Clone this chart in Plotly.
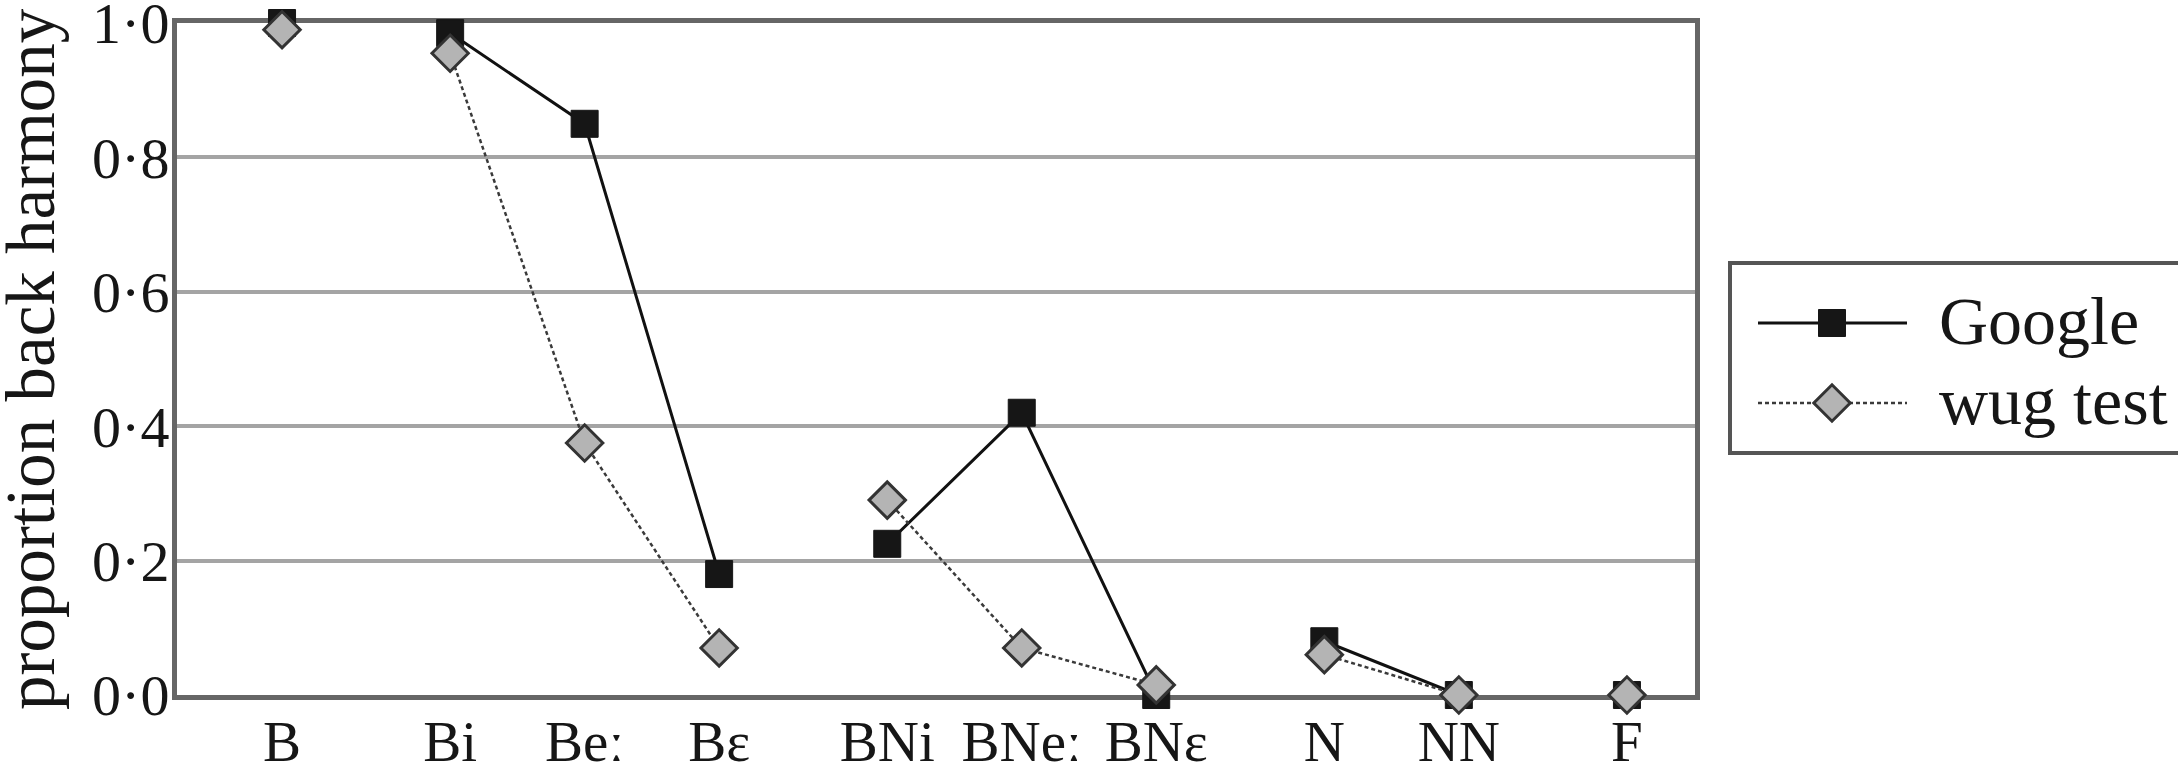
import plotly.graph_objects as go

# ---- data -------------------------------------------------------------
categories = ["B", "Bi", "Beː", "Bɛ", "BNi", "BNeː", "BNɛ", "N", "NN", "F"]
group_sizes = [1, 3, 3, 2, 1]          # categories per stem-type group
google = [1.0, 0.985, 0.85, 0.18, 0.225, 0.42, 0.0, 0.08, 0.0, 0.0]
wug_test = [0.99, 0.955, 0.375, 0.07, 0.29, 0.07, 0.015, 0.06, 0.0, 0.0]
y_ticks = [0.0, 0.2, 0.4, 0.6, 0.8, 1.0]
y_tick_labels = ["0·0", "0·2", "0·4", "0·6", "0·8", "1·0"]

# ---- geometry -------------------------------------------------------------
W, H = 2178, 779
PLOT_L, PLOT_R, PLOT_T, PLOT_B = 177, 1695, 23, 695
GROUP_GAP = 1.25
FONT = "Liberation Serif, Times New Roman, serif"
INK = "#161616"

# x position of each category: unit spacing in a group, wider gap between groups
positions = []
pos = 0.0
for gi, n in enumerate(group_sizes):
    if gi > 0:
        pos += GROUP_GAP - 1
    for _ in range(n):
        positions.append(pos)
        pos += 1


def broken(values):
    """x/y lists with a gap between groups so lines only join within a group."""
    xs, ys, i = [], [], 0
    for gi, n in enumerate(group_sizes):
        if gi > 0:
            xs.append(None)
            ys.append(None)
        xs += positions[i:i + n]
        ys += values[i:i + n]
        i += n
    return xs, ys


google_line = dict(color="#111111", width=3)
google_marker = dict(symbol="square", size=27, color=INK, line=dict(color=INK, width=1))
wug_line = dict(color="#3a3a3a", width=2.5, dash="4px,3px")
wug_marker = dict(symbol="diamond", size=28, color="#b4b4b4",
                  line=dict(color="#333333", width=3))

fig = go.Figure()

gx, gy = broken(google)
fig.add_trace(go.Scatter(x=gx, y=gy, mode="lines+markers", name="Google",
                         line=google_line, marker=google_marker,
                         cliponaxis=False, showlegend=False))
wx, wy = broken(wug_test)
fig.add_trace(go.Scatter(x=wx, y=wy, mode="lines+markers", name="wug test",
                         line=wug_line, marker=wug_marker,
                         cliponaxis=False, showlegend=False))

# ---- key (drawn on a full-canvas pixel overlay) ---------------------------
KEY_X0, KEY_X1, KEY_MID = 1758, 1907, 1832
KEY_ROWS = [("Google", 323, google_line, google_marker),
            ("wug test", 403, wug_line, wug_marker)]
for label, ry, ln, mk in KEY_ROWS:
    fig.add_trace(go.Scatter(x=[KEY_X0, KEY_X1], y=[ry, ry], mode="lines",
                             line=ln, xaxis="x2", yaxis="y2",
                             showlegend=False, hoverinfo="skip"))
    fig.add_trace(go.Scatter(x=[KEY_MID], y=[ry], mode="markers",
                             marker=mk, xaxis="x2", yaxis="y2",
                             showlegend=False, hoverinfo="skip", cliponaxis=False))
    fig.add_annotation(x=1937, y=ry - 2, xref="x2", yref="y2", text=label,
                       showarrow=False, xanchor="left", yanchor="middle",
                       font=dict(family=FONT, size=68, color=INK))

fig.add_shape(type="rect", xref="x2", yref="y2", x0=1730, x1=2200, y0=263, y1=453,
              line=dict(color="#555555", width=4), fillcolor="rgba(0,0,0,0)")

# y-axis title
fig.add_annotation(x=31, y=(PLOT_T + PLOT_B) / 2, xref="x2", yref="y2",
                   text="proportion back harmony", textangle=-90, showarrow=False,
                   xanchor="center", yanchor="middle", borderpad=0,
                   font=dict(family=FONT, size=69, color=INK))

fig.update_layout(
    width=W, height=H,
    margin=dict(l=0, r=0, t=0, b=0, autoexpand=False),
    paper_bgcolor="white", plot_bgcolor="rgba(0,0,0,0)",
    font=dict(family=FONT, color=INK),
    xaxis=dict(
        domain=[PLOT_L / W, PLOT_R / W],
        range=[-0.781, 10.506], automargin=False,
        tickvals=positions, ticktext=categories,
        tickfont=dict(family=FONT, size=57, color=INK),
        ticks="", ticklabelstandoff=-7, ticklabeloverflow="allow",
        showgrid=False, zeroline=False,
        showline=True, mirror=True, linecolor="#666666", linewidth=5,
        layer="below traces", fixedrange=True,
    ),
    yaxis=dict(
        domain=[1 - PLOT_B / H, 1 - PLOT_T / H],
        range=[0, 1], automargin=False,
        tickvals=y_ticks, ticktext=y_tick_labels,
        tickfont=dict(family=FONT, size=58, color=INK),
        ticks="", ticklabelstandoff=-9, ticklabeloverflow="allow",
        showgrid=True, gridcolor="#a4a4a4", gridwidth=4, zeroline=False,
        showline=True, mirror=True, linecolor="#666666", linewidth=5,
        layer="below traces", fixedrange=True,
    ),
    xaxis2=dict(domain=[0, 1], range=[0, W], visible=False, anchor="y2",
                automargin=False, fixedrange=True),
    yaxis2=dict(domain=[0, 1], range=[H, 0], visible=False, anchor="x2",
                automargin=False, fixedrange=True),
)

fig.write_html("out.html", config={"displayModeBar": False})
